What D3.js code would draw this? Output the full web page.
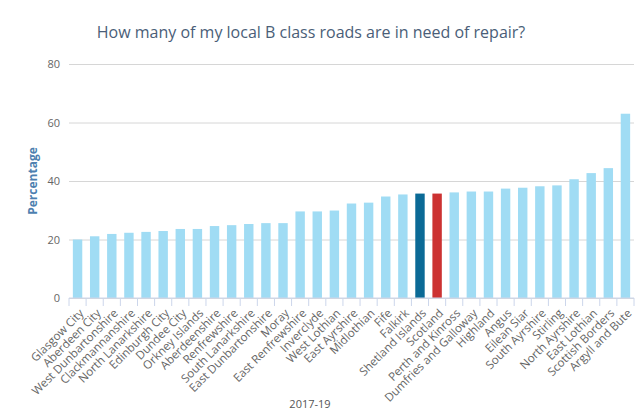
<!DOCTYPE html>
<html>
<head>
<meta charset="utf-8">
<script src="https://cdn.jsdelivr.net/npm/d3@7"></script>
<style>
  body { margin: 0; background: #fff; }
  svg { font-family: "Open Sans", "Noto Sans", sans-serif; }
</style>
</head>
<body>
<svg id="chart" width="643" height="417"></svg>
<script>
// Council areas, sorted by share of B roads needing repair (2017-19)
const areas = ["Glasgow City", "Aberdeen City", "West Dunbartonshire", "Clackmannanshire", "North Lanarkshire",
  "Edinburgh City", "Dundee City", "Orkney Islands", "Aberdeenshire", "Renfrewshire", "South Lanarkshire",
  "East Dunbartonshire", "Moray", "East Renfrewshire", "Inverclyde", "West Lothian", "East Ayrshire",
  "Midlothian", "Fife", "Falkirk", "Shetland Islands", "Scotland", "Perth and Kinross", "Dumfries and Galloway",
  "Highland", "Angus", "Eilean Siar", "South Ayrshire", "Stirling", "North Ayrshire", "East Lothian",
  "Scottish Borders", "Argyll and Bute"];
const percentages = [20.0, 21.1, 21.9, 22.3, 22.6, 22.9, 23.6, 23.6, 24.6, 24.9, 25.3, 25.6, 25.6, 29.6, 29.6,
  29.9, 32.3, 32.6, 34.7, 35.4, 35.7, 35.7, 36.1, 36.4, 36.4, 37.4, 37.7, 38.2, 38.5, 40.6, 42.7, 44.4, 63.0];
const yTicks = [0, 20, 40, 60, 80];
const highlight = { "Shetland Islands": "#0b6a96", "Scotland": "#cc3232" };

const data = areas.map((name, i) => ({ name, value: percentages[i] }));

const svg = d3.select("#chart");
const margin = { top: 64, right: 9, bottom: 119, left: 69 };
const width = 643 - margin.left - margin.right;
const height = 417 - margin.top - margin.bottom;

const x = d3.scaleBand()
  .domain(areas)
  .range([margin.left, margin.left + width])
  .paddingInner(0.45)
  .paddingOuter(0.225);

const y = d3.scaleLinear()
  .domain([0, 80])
  .range([margin.top + height, margin.top]);

// title
svg.append("text")
  .attr("x", 311)
  .attr("y", 38)
  .attr("text-anchor", "middle")
  .attr("fill", "#4a5e78")
  .style("font-size", "16px")
  .text("How many of my local B class roads are in need of repair?");

// gridlines + y labels
const yAxis = svg.append("g")
  .attr("transform", `translate(${margin.left},0)`)
  .call(d3.axisLeft(y).tickValues(yTicks).tickSize(-width).tickPadding(9));
yAxis.select(".domain").remove();
yAxis.selectAll(".tick line").attr("stroke", "#d6d6d6");
yAxis.selectAll(".tick text")
  .attr("fill", "#666")
  .style("font-size", "11px")
  .style("font-family", "'Open Sans', sans-serif");

svg.append("text")
  .attr("transform", `translate(37, ${margin.top + height / 2}) rotate(-90)`)
  .attr("text-anchor", "middle")
  .attr("fill", "#4d7fb0")
  .style("font-size", "12px")
  .style("font-weight", "bold")
  .text("Percentage");

// bars
svg.selectAll(".bar")
  .data(data)
  .enter()
  .append("rect")
  .attr("class", "bar")
  .attr("x", d => x(d.name))
  .attr("y", d => y(d.value))
  .attr("width", x.bandwidth())
  .attr("height", d => y(0) - y(d.value))
  .attr("fill", d => highlight[d.name] || "#a0dcf4");

// x axis with ticks at band edges
const edgeScale = d3.scaleLinear().domain([0, areas.length]).range([margin.left, margin.left + width]);
const xAxisG = svg.append("g")
  .attr("transform", `translate(0, ${y(0)})`);
xAxisG.append("line")
  .attr("x1", margin.left).attr("x2", margin.left + width)
  .attr("stroke", "#ccd6eb");
xAxisG.selectAll(".edge")
  .data(d3.range(areas.length + 1))
  .enter()
  .append("line")
  .attr("x1", d => edgeScale(d)).attr("x2", d => edgeScale(d))
  .attr("y1", 0).attr("y2", 8)
  .attr("stroke", "#ccd6eb");

xAxisG.selectAll(".xlabel")
  .data(areas)
  .enter()
  .append("text")
  .attr("transform", d => `translate(${x(d) + x.bandwidth() / 2 + 4}, 13) rotate(-45)`)
  .attr("text-anchor", "end")
  .attr("dy", "0.35em")
  .attr("fill", "#666")
  .style("font-size", "11.6px")
  .text(d => d);

svg.append("text")
  .attr("x", 310)
  .attr("y", 408)
  .attr("text-anchor", "middle")
  .attr("fill", "#555")
  .style("font-size", "11px")
  .text("2017-19");
</script>
</body>
</html>
